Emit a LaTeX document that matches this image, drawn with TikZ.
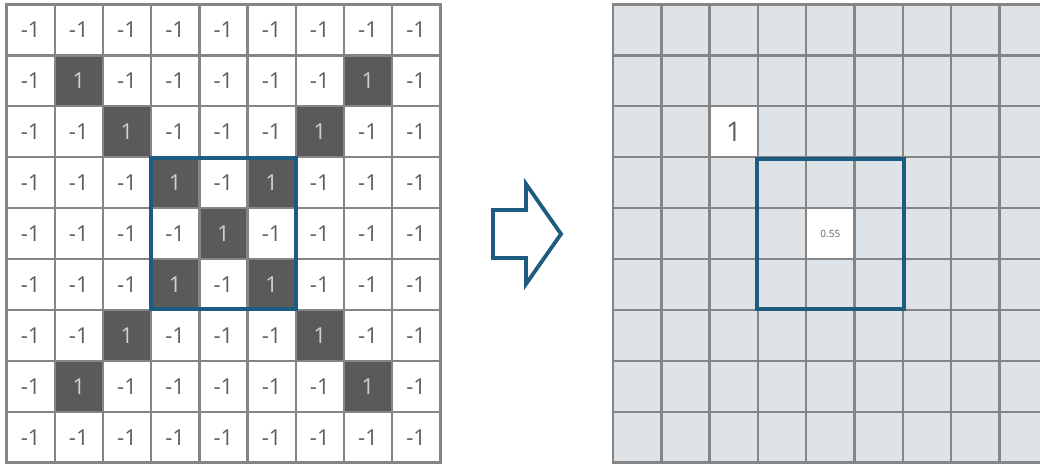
\documentclass[tikz,border=0pt]{standalone}
\usepackage{fontspec}
\setmainfont{Open Sans}
\definecolor{darkcell}{HTML}{5A5A5A}
\definecolor{gridgray}{HTML}{858585}
\definecolor{txtgray}{HTML}{5E5E5E}
\definecolor{onegray}{HTML}{D0D0D0}
\definecolor{lightcell}{HTML}{DDE3E6}
\definecolor{boxblue}{HTML}{1D5C80}
\begin{document}
\begin{tikzpicture}[x=1pt,y=-1pt,
  cellL/.style={inner sep=0pt, minimum width=48.2pt, minimum height=50.9pt,
    draw=gridgray, line width=2.4pt, fill=white, text=txtgray,
    font=\fontsize{22}{22}\selectfont},
  darkL/.style={cellL, fill=darkcell, text=onegray},
  cellR/.style={inner sep=0pt, minimum width=48.3pt, minimum height=50.9pt,
    draw=gridgray, line width=2.4pt, fill=lightcell},
  whiteR/.style={cellR, fill=white, text=txtgray},
  bluebox/.style={draw=boxblue, line width=3.8pt},
  arrowshape/.style={draw=boxblue, line width=3.8pt, line join=miter, fill=white}]
\useasboundingbox (0,0) rectangle (1040,465);
\fill[white] (0,0) rectangle (1040,465);
% left grid
\foreach \r in {0,...,8}{
  \foreach \c in {0,...,8}{
    \pgfmathtruncatemacro\isdark{and(or(\r==\c,\r+\c==8),and(\r>0,\r<8))}
    \ifnum\isdark=1
      \node[darkL] (L-\r-\c) at ({6.5+48.2*(\c+0.5)},{4.5+50.9*(\r+0.5)}) {1};
    \else
      \node[cellL] (L-\r-\c) at ({6.5+48.2*(\c+0.5)},{4.5+50.9*(\r+0.5)}) {-1};
    \fi
  }
}
% right grid
\foreach \r in {0,...,8}{
  \foreach \c in {0,...,8}{
    \node[cellR] (R-\r-\c) at ({613+48.3*(\c+0.5)},{4.5+50.9*(\r+0.5)}) {};
  }
}
\node[whiteR, font=\fontsize{27}{27}\selectfont] (R1) at (R-2-2) {1};
\node[whiteR, font=\fontsize{10}{10}\selectfont] (R55) at (R-4-4) {0.55};
% highlight boxes
\draw[bluebox] ([shift={(1,2)}]L-3-3.north west) rectangle ([shift={(-1,-2)}]L-5-5.south east);
\draw[bluebox] ([shift={(0,3)}]R-3-3.north west) rectangle ([shift={(0,-2)}]R-5-5.south east);
% arrow
\draw[arrowshape] (493,210) -- (526,210) -- (526,184) -- (561,234) -- (526,284) -- (526,258) -- (493,258) -- cycle;
\end{tikzpicture}
\end{document}
